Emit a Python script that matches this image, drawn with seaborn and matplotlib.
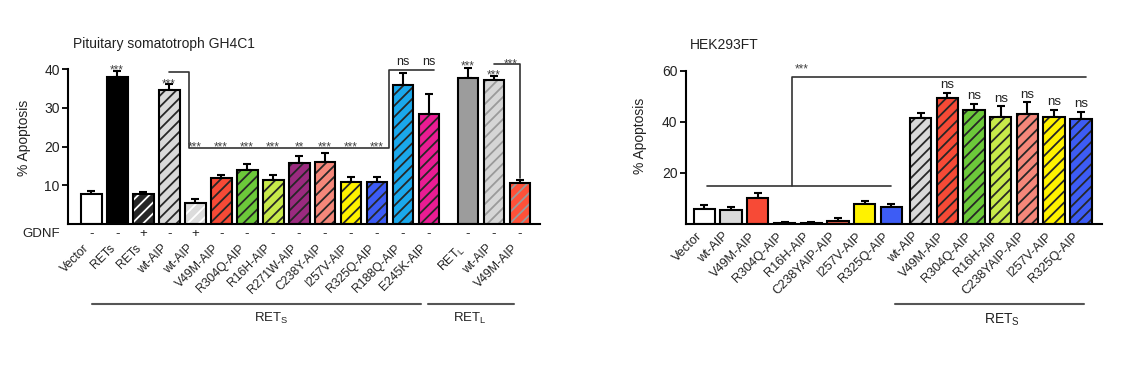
import numpy as np
import pandas as pd
import matplotlib
matplotlib.use("Agg")
import matplotlib.pyplot as plt
import matplotlib.transforms as mtransforms
from matplotlib.colors import to_rgba
import seaborn as sns

# ---------------- data: left panel (GH4C1) ----------------
left_labels = ["Vector", "RETs", "RETs", "wt-AIP", "wt-AIP", "V49M-AIP", "R304Q-AIP",
               "R16H-AIP", "R271W-AIP", "C238Y-AIP", "I257V-AIP", "R325Q-AIP",
               "R188Q-AIP", "E245K-AIP", "RET$_\\mathregular{L}$", "wt-AIP", "V49M-AIP"]
left_gdnf = ["-", "-", "+", "-", "+", "-", "-", "-", "-", "-", "-", "-", "-", "-", "-", "-", "-"]
left_values = [7.8, 37.9, 7.8, 34.5, 5.4, 11.9, 14.0, 11.4, 15.8, 16.0, 10.8, 10.8,
               35.8, 28.4, 37.6, 37.1, 10.5]
left_errors = [0.8, 1.5, 0.6, 1.7, 1.0, 0.7, 1.4, 1.3, 1.8, 2.4, 1.4, 1.4,
               3.2, 5.2, 2.7, 1.1, 0.9]
left_stars = ["", "***", "", "***", "***", "***", "***", "***", "**", "***", "***", "***",
              "ns", "ns", "***", "***", ""]

# ---------------- data: right panel (HEK293FT) ----------------
right_labels = ["Vector", "wt-AIP", "V49M-AIP", "R304Q-AIP", "R16H-AIP", "C238YAIP-AIP",
                "I257V-AIP", "R325Q-AIP", "wt-AIP", "V49M-AIP", "R304Q-AIP", "R16H-AIP",
                "C238YAIP-AIP", "I257V-AIP", "R325Q-AIP"]
right_values = [5.8, 5.5, 10.1, 0.6, 0.5, 1.4, 7.9, 6.9,
                41.6, 49.2, 44.8, 42.0, 43.1, 41.7, 41.2]
right_errors = [1.7, 1.1, 2.2, 0.2, 0.2, 0.9, 1.2, 1.1,
                1.9, 2.1, 2.1, 4.0, 4.5, 3.1, 2.6]
right_stars = ["", "", "", "", "", "", "", "",
               "", "ns", "ns", "ns", "ns", "ns", "ns"]

# ---------------- styles ----------------
left_pos = [0, 1, 2, 3, 4, 5, 6, 7, 8, 9, 10, 11, 12, 13, 14.5, 15.5, 16.5]
left_colors = ["#ffffff", "#000000", "#262626", "#d9d9d9", "#dcdcdc", "#f74a36", "#6cc93a",
               "#c8ea4a", "#9b2a7f", "#f5877a", "#fff200", "#3d5cf5", "#1aa8ec",
               "#ea1c93", "#9c9c9c", "#d6d6d6", "#ff5038"]
left_hatch = [None, None, "w", "d", "w", "d", "d", "d", "d", "d", "d", "d", "d", "d",
              None, "g", "g"]

right_pos = [0, 1, 2, 3, 4, 5, 6, 7, 8.1, 9.1, 10.1, 11.1, 12.1, 13.1, 14.1]
right_colors = ["#ffffff", "#dadada", "#f74a36", "#6cc93a", "#c8ea4a", "#e05a45",
                "#fff200", "#3d5cf5", "#d9d9d9", "#f74a36", "#6cc93a", "#c8ea4a",
                "#f5877a", "#fff200", "#3d5cf5"]
right_hatch = [None] * 8 + ["d"] * 7

HATCH_COL = {"w": "#ffffff", "d": "#262626", "g": "#9a9a9a"}
TXT = "#222222"
STAR = "#444444"

sns.set_style("ticks")
plt.rcParams["font.family"] = ["Liberation Sans", "DejaVu Sans"]
plt.rcParams["hatch.linewidth"] = 1.3
plt.rcParams["mathtext.fontset"] = "custom"
plt.rcParams["mathtext.rm"] = "Liberation Sans"

fig = plt.figure(figsize=(11.34, 3.78), dpi=100)
axL = fig.add_axes([0.060, 0.407, 0.416, 0.410])
axR = fig.add_axes([0.6047, 0.407, 0.3668, 0.406])


def draw_panel(ax, pos, vals, errs, colors, hatches, labels, ylim, yticks, xlim, pad,
               xfs, yfs, ylab_xy):
    df = pd.DataFrame({"pos": pos, "val": vals, "key": [str(i) for i in range(len(pos))]})
    pal = {str(i): c for i, c in enumerate(colors)}
    sns.barplot(data=df, x="pos", y="val", hue="key", palette=pal, native_scale=True,
                legend=False, saturation=1, errorbar=None, edgecolor="black",
                linewidth=1.5, width=0.8, ax=ax, zorder=2)
    for patch in ax.patches:
        cx = patch.get_x() + patch.get_width() / 2
        i = int(np.argmin([abs(cx - p) for p in pos]))
        h = hatches[i]
        if h is not None:
            patch.set_hatch("///")
            patch._hatch_color = to_rgba(HATCH_COL[h])
    ax.errorbar(pos, vals, yerr=[np.zeros(len(errs)), errs], fmt="none", ecolor="black",
                elinewidth=1.5, capsize=3.2, capthick=1.5, zorder=1, clip_on=False)
    ax.set_xlim(*xlim)
    ax.set_ylim(*ylim)
    ax.set_yticks(yticks)
    ax.set_yticklabels([str(t) for t in yticks], fontsize=10, color=TXT)
    ax.set_xticks(pos)
    ax.set_xticklabels(labels, rotation=45, ha="right", fontsize=xfs, color=TXT)
    ax.tick_params(axis="x", length=0, pad=pad)
    ax.tick_params(axis="y", length=4.5, width=1.3, pad=1.5, color="black")
    ax.set_xlabel("")
    ax.set_ylabel("% Apoptosis", fontsize=yfs, color=TXT)
    ax.yaxis.set_label_coords(*ylab_xy)
    sns.despine(ax=ax)
    for s in ("left", "bottom"):
        ax.spines[s].set_linewidth(1.5)
        ax.spines[s].set_color("black")


draw_panel(axL, left_pos, left_values, left_errors, left_colors, left_hatch, left_labels,
           (0, 40), [10, 20, 30, 40], (-0.89, 17.26), 13.0, 8.8, 10, (-0.079, 0.555))
draw_panel(axR, right_pos, right_values, right_errors, right_colors, right_hatch, right_labels,
           (0, 60), [20, 40, 60], (-0.70, 14.88), 4.5, 9.2, 10, (-0.092, 0.574))

LC = "#333333"
SFS = 8.5

# ---------------- left annotations ----------------
star_centers = {1: 40.6, 3: 37.2, 14.5: 41.8, 15.5: 39.4}
for p, v, e, s in zip(left_pos, left_values, left_errors, left_stars):
    if s == "":
        continue
    if s == "ns":
        axL.text(p, 41.0, s, ha="center", va="baseline", fontsize=9, color=TXT)
    elif p in star_centers:
        axL.text(p, star_centers[p] - 1.8, s, ha="center", va="baseline", fontsize=SFS,
                 color=STAR)
    else:
        axL.text(p, 20.8 - 1.8, s, ha="center", va="baseline", fontsize=SFS, color=STAR)
axL.text(16.15, 42.2 - 1.8, "***", ha="center", va="baseline", fontsize=SFS, color=STAR)
axL.plot([3.0, 3.77, 3.77, 11.45, 11.45, 13.2], [39.3, 39.3, 19.7, 19.7, 39.9, 39.9],
         color=LC, lw=1.2, clip_on=False, zorder=3)
axL.plot([15.5, 16.5, 16.5], [41.3, 41.3, 12.0], color=LC, lw=1.2, clip_on=False, zorder=3)

# GDNF row
trL = mtransforms.blended_transform_factory(axL.transData, fig.transFigure)
for p, g in zip(left_pos, left_gdnf):
    axL.text(p, 0.381, g, transform=trL, ha="center", va="center", fontsize=9.5, color=TXT)
fig.text(0.053, 0.381, "GDNF", ha="right", va="center", fontsize=9.5, color=TXT)

# group lines
axL.plot([0.03, 12.7], [0.196, 0.196], transform=trL, color="#555555", lw=1.5, clip_on=False)
axL.plot([12.94, 16.27], [0.196, 0.196], transform=trL, color="#555555", lw=1.5, clip_on=False)
axL.text(6.94, 0.158, "RET$_\\mathregular{S}$", transform=trL, ha="center", va="center",
         fontsize=9.5, color=TXT)
axL.text(14.57, 0.158, "RET$_\\mathregular{L}$", transform=trL, ha="center", va="center",
         fontsize=9.5, color=TXT)

# ---------------- right annotations ----------------
for p, v, e, s in zip(right_pos, right_values, right_errors, right_stars):
    if s:
        axR.text(p, v + e + 1.9, s, ha="center", va="baseline", fontsize=9.5, color=TXT)
axR.plot([0.1, 7.0], [15.0, 15.0], color=LC, lw=1.2, clip_on=False, zorder=3)
axR.plot([3.27, 3.27, 14.3], [15.0, 57.5, 57.5], color=LC, lw=1.2, clip_on=False, zorder=3)
axR.text(3.65, 62.1 - 2.7, "***", ha="center", va="baseline", fontsize=SFS, color=STAR)

trR = mtransforms.blended_transform_factory(axR.transData, fig.transFigure)
axR.plot([7.13, 14.22], [0.196, 0.196], transform=trR, color="#555555", lw=1.5, clip_on=False)
axR.text(11.13, 0.155, "RET$_\\mathregular{S}$", transform=trR, ha="center", va="center",
         fontsize=10, color=TXT)

# titles
fig.text(0.064, 0.883, "Pituitary somatotroph GH4C1", ha="left", va="center",
         fontsize=10, color=TXT)
fig.text(0.608, 0.880, "HEK293FT", ha="left", va="center", fontsize=10, color=TXT)

fig.savefig("out.png", dpi=100, facecolor="white")
